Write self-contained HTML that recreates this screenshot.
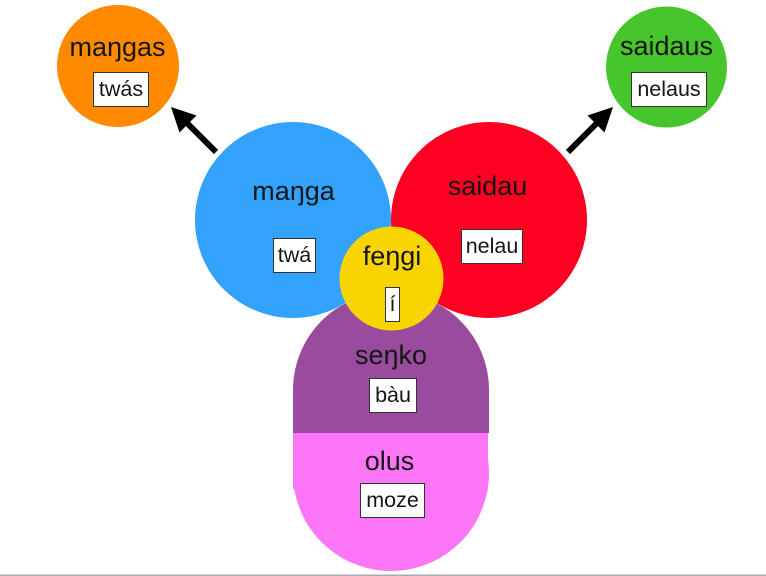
<!DOCTYPE html>
<html>
<head>
<meta charset="utf-8">
<style>
  html, body { margin: 0; padding: 0; background: #fff; }
  body { width: 766px; height: 576px; overflow: hidden; }
  svg { display: block; }
  .lbl { font-family: "Liberation Sans", "DejaVu Sans", sans-serif; font-size: 27px; fill: #151515; text-anchor: middle; }
  .bx { font-family: "Liberation Sans", "DejaVu Sans", sans-serif; font-size: 21.5px; fill: #151515; text-anchor: middle; }
  .box { fill: #fff; stroke: #333; stroke-width: 1; }
</style>
</head>
<body>
<svg width="766" height="576" viewBox="0 0 766 576" xmlns="http://www.w3.org/2000/svg">
  <defs>
    <clipPath id="below">
      <rect x="0" y="433" width="766" height="143"/>
    </clipPath>
  </defs>
  <!-- purple (seŋko) -->
  <circle cx="391" cy="390" r="98" fill="#994B9E"/>
  <rect x="293" y="390" width="196" height="43" fill="#994B9E"/>
  <!-- pink (olus) -->
  <rect x="293" y="433" width="195" height="56" fill="#FE76F8"/>
  <circle cx="391" cy="473" r="98" fill="#FE76F8" clip-path="url(#below)"/>
  <!-- blue -->
  <circle cx="293" cy="220" r="98" fill="#32A2FD"/>
  <!-- red -->
  <circle cx="489" cy="220" r="98" fill="#FE0022"/>
  <!-- yellow -->
  <circle cx="391.5" cy="278.5" r="52" fill="#F9D500"/>
  <!-- orange -->
  <circle cx="118" cy="66" r="61" fill="#FF8A00"/>
  <!-- green -->
  <circle cx="666.5" cy="67" r="60.5" fill="#46C62C"/>

  <!-- arrows -->
  <polygon points="171,107 196.5,115.5 190.1,121.9 218.1,149.9 213.9,154.1 185.9,126.1 179.5,132.5" fill="#000"/>
  <polygon points="613,107 587.5,115.5 593.9,121.9 565.9,149.9 570.1,154.1 598.1,126.1 604.5,132.5" fill="#000"/>

  <!-- orange labels -->
  <text class="lbl" x="117.5" y="56">maŋgas</text>
  <rect class="box" x="93.5" y="72.5" width="55" height="34"/>
  <text class="bx" x="121" y="96">twás</text>

  <!-- green labels -->
  <text class="lbl" x="666.5" y="55">saidaus</text>
  <rect class="box" x="631.5" y="72.5" width="75" height="34"/>
  <text class="bx" x="669" y="96">nelaus</text>

  <!-- blue labels -->
  <text class="lbl" x="293.5" y="200">maŋga</text>
  <rect class="box" x="273.5" y="238.5" width="42" height="34"/>
  <text class="bx" x="294.5" y="262">twá</text>

  <!-- red labels -->
  <text class="lbl" x="487.5" y="195">saidau</text>
  <rect class="box" x="461.5" y="229.5" width="61" height="34"/>
  <text class="bx" x="492" y="253">nelau</text>

  <!-- yellow labels -->
  <text class="lbl" x="392" y="265">feŋgi</text>
  <rect class="box" x="385.5" y="287.5" width="14" height="34"/>
  <text class="bx" x="392.5" y="311">í</text>

  <!-- purple labels -->
  <text class="lbl" x="391" y="364">seŋko</text>
  <rect class="box" x="369.5" y="378.5" width="47" height="34"/>
  <text class="bx" x="393" y="402">bàu</text>

  <!-- pink labels -->
  <text class="lbl" x="389.5" y="470">olus</text>
  <rect class="box" x="360.5" y="483.5" width="64" height="34"/>
  <text class="bx" x="392.5" y="507">moze</text>

  <!-- bottom gray line -->
  <rect x="0" y="574.5" width="766" height="1.5" fill="#A9A9B1"/>
</svg>
</body>
</html>
